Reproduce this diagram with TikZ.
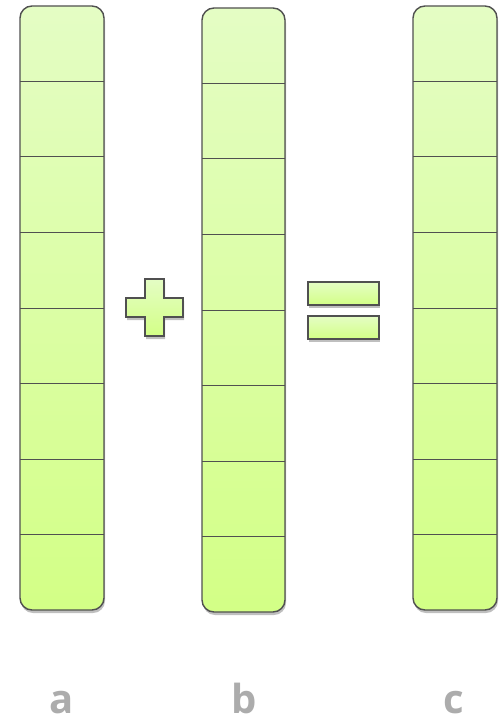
\documentclass[tikz,border=0pt]{standalone}
\usepackage{fontspec}
\setmainfont{Open Sans}
\usetikzlibrary{shadows}
\definecolor{topg}{RGB}{228,253,196}
\definecolor{botg}{RGB}{211,255,134}
\definecolor{edge}{RGB}{80,80,80}
\definecolor{lab}{RGB}{172,172,172}
\tikzset{
  colbox/.style={draw=edge, line width=1.4pt, rounded corners=12pt,
    top color=topg, bottom color=botg,
    drop shadow={shadow xshift=1pt, shadow yshift=-3pt, opacity=0.25, fill=black}},
  divider/.style={draw=edge, line width=1pt},
  opbox/.style={draw=edge, line width=1.4pt, top color=topg, bottom color=botg,
    drop shadow={shadow xshift=1pt, shadow yshift=-3pt, opacity=0.25, fill=black}},
  lbl/.style={font=\fontsize{40}{40}\selectfont\bfseries, text=lab, anchor=base, inner sep=0pt}
}
\begin{document}
\begin{tikzpicture}[x=1pt,y=-1pt]
\useasboundingbox (0,0) rectangle (500,719);
% columns
\foreach \n/\xl/\xr/\yt/\yb in {a/20/104/6/610, b/202/285/8/612, c/413/497/6/610}{
  \path[colbox] (\xl,\yt) rectangle (\xr,\yb);
  \coordinate (\n-top) at ({(\xl+\xr)/2},\yt);
  \foreach \k in {1,...,7}{
    \draw[divider] (\xl,{\yt+\k*(\yb-\yt)/8}) -- (\xr,{\yt+\k*(\yb-\yt)/8});
  }
}
% plus sign
\path[opbox] (145,279) -- (164,279) -- (164,298) -- (183,298) -- (183,317) -- (164,317)
  -- (164,336) -- (145,336) -- (145,317) -- (126,317) -- (126,298) -- (145,298) -- cycle;
% equals sign
\path[opbox] (308,282) rectangle (379,305);
\path[opbox] (308,316) rectangle (379,339);
% labels
\node[lbl] (la) at (62,713) {a};
\node[lbl] (lb) at (244,713) {b};
\node[lbl] (lc) at (454,713) {c};
\end{tikzpicture}
\end{document}
